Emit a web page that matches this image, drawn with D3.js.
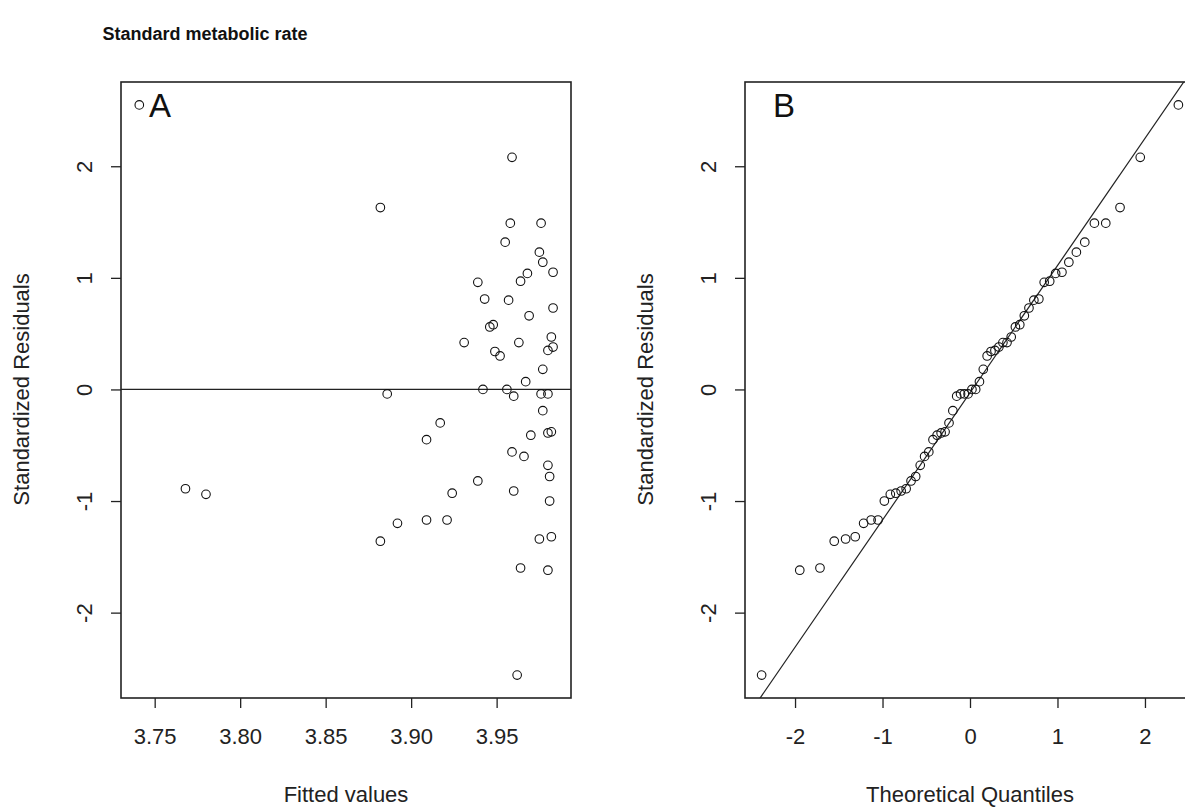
<!DOCTYPE html>
<html>
<head>
<meta charset="utf-8">
<title>Standard metabolic rate</title>
<script src="https://d3js.org/d3.v7.min.js"></script>
<style>
  body { margin: 0; background: #fff; }
  text { font-family: "Liberation Sans", Arial, sans-serif; fill: #222; }
</style>
</head>
<body>
<script>
// Panel A: fitted values vs standardized residuals
var fitted = [3.741, 3.882, 3.768, 3.780, 3.886, 3.882, 3.892, 3.909, 3.909, 3.917,
              3.921, 3.924, 3.931, 3.939, 3.939, 3.942, 3.943, 3.946, 3.948, 3.949,
              3.952, 3.955, 3.956, 3.958, 3.959, 3.957, 3.959, 3.960, 3.960, 3.963,
              3.964, 3.966, 3.964, 3.962, 3.968, 3.969, 3.967, 3.970, 3.975, 3.976,
              3.977, 3.975, 3.977, 3.977, 3.976, 3.983, 3.980, 3.980, 3.981, 3.981,
              3.980, 3.982, 3.983, 3.982, 3.983, 3.982, 3.980, 3.980];
var residuals = [2.55, 1.63, -0.89, -0.94, -0.04, -1.36, -1.20, -1.17, -0.45, -0.30,
                 -1.17, -0.93, 0.42, 0.96, -0.82, 0.00, 0.81, 0.56, 0.58, 0.34,
                 0.30, 1.32, 0.00, 1.49, 2.08, 0.80, -0.56, -0.06, -0.91, 0.42,
                 0.97, -0.60, -1.60, -2.56, 1.04, 0.66, 0.07, -0.41, 1.23, 1.49,
                 1.14, -1.34, 0.18, -0.19, -0.04, 1.05, 0.35, -0.68, -0.78, -1.00,
                 -0.39, -0.38, 0.73, 0.47, 0.38, -1.32, -1.62, -0.04];

// Panel B: normal Q-Q plot
var theoQuantiles = [-2.382, -1.946, -1.715, -1.552, -1.422, -1.312, -1.216, -1.130, -1.051, -0.979,
                     -0.911, -0.848, -0.787, -0.730, -0.674, -0.621, -0.569, -0.519, -0.471, -0.423,
                     -0.376, -0.330, -0.285, -0.240, -0.196, -0.152, -0.108, -0.065, -0.022,
                     0.022, 0.065, 0.108, 0.152, 0.196, 0.240, 0.285, 0.330, 0.376, 0.423,
                     0.471, 0.519, 0.569, 0.621, 0.674, 0.730, 0.787, 0.848, 0.911, 0.979,
                     1.051, 1.130, 1.216, 1.312, 1.422, 1.552, 1.715, 1.946, 2.382];
var sampleQuantiles = [-2.56, -1.62, -1.60, -1.36, -1.34, -1.32, -1.20, -1.17, -1.17, -1.00,
                       -0.94, -0.93, -0.91, -0.89, -0.82, -0.78, -0.68, -0.60, -0.56, -0.45,
                       -0.41, -0.39, -0.38, -0.30, -0.19, -0.06, -0.04, -0.04, -0.04,
                       0.00, 0.00, 0.07, 0.18, 0.30, 0.34, 0.35, 0.38, 0.42, 0.42,
                       0.47, 0.56, 0.58, 0.66, 0.73, 0.80, 0.81, 0.96, 0.97, 1.04,
                       1.05, 1.14, 1.23, 1.32, 1.49, 1.49, 1.63, 2.08, 2.55];
var qqIntercept = -0.03;
var qqSlope = 1.14;

var xTicksA = [3.75, 3.80, 3.85, 3.90, 3.95];
var xTicksB = [-2, -1, 0, 1, 2];
var yTicks = [-2, -1, 0, 1, 2];

var W = 1185, H = 807;
var plotTop = 82, plotBottom = 698;

var svg = d3.select("body").append("svg")
    .attr("width", W)
    .attr("height", H);

var y = d3.scaleLinear().domain([-2.765, 2.755]).range([plotBottom, plotTop]);

// R-style labels use a plain hyphen for negatives
var intLabel = d => String(d);

function panel(id, x0, x1, xDomain, xTicks, xFormat, xTitle, letter) {
    var x = d3.scaleLinear().domain(xDomain).range([x0, x1]);
    var g = svg.append("g");

    g.append("clipPath").attr("id", "clip" + id)
        .append("rect")
        .attr("x", x0).attr("y", plotTop)
        .attr("width", x1 - x0).attr("height", plotBottom - plotTop);

    // x axis
    var xa = g.append("g")
        .attr("transform", "translate(0," + plotBottom + ")")
        .call(d3.axisBottom(x).tickValues(xTicks).tickFormat(xFormat).tickSize(10).tickPadding(20));
    xa.select(".domain").remove();
    xa.selectAll("line").attr("stroke", "#222").attr("stroke-width", 1.3);
    xa.selectAll("text").attr("font-size", 22).attr("fill", "#222");

    // y axis, labels parallel to the axis
    var ya = g.append("g")
        .attr("transform", "translate(" + x0 + ",0)")
        .call(d3.axisLeft(y).tickValues(yTicks).tickFormat(intLabel).tickSize(10).tickPadding(0));
    ya.select(".domain").remove();
    ya.selectAll("line").attr("stroke", "#222").attr("stroke-width", 1.3);
    ya.selectAll("text")
        .attr("font-size", 22).attr("fill", "#222")
        .attr("x", null).attr("dy", null)
        .attr("text-anchor", "middle")
        .attr("transform", "translate(-37,0) rotate(-90)")
        .attr("y", 8);

    // axis titles
    g.append("text")
        .attr("x", (x0 + x1) / 2).attr("y", 802)
        .attr("text-anchor", "middle")
        .attr("font-size", 22)
        .text(xTitle);
    g.append("text")
        .attr("transform", "translate(" + (x0 - 92) + "," + y(0) + ") rotate(-90)")
        .attr("text-anchor", "middle")
        .attr("font-size", 22)
        .text("Standardized Residuals");

    // panel letter
    g.append("text")
        .attr("x", x0 + 28).attr("y", plotTop + 35)
        .attr("font-family", "'Open Sans', sans-serif")
        .attr("font-size", 33)
        .style("fill", "#111")
        .text(letter);

    return {g: g, x: x};
}

// ---- panel A
var pA = panel("A", 121, 571, [3.7303, 3.9935], xTicksA, d3.format(".2f"), "Fitted values", "A");

pA.g.append("line")
    .attr("x1", 121).attr("x2", 571)
    .attr("y1", y(0)).attr("y2", y(0))
    .attr("stroke", "#222").attr("stroke-width", 1.2);

pA.g.append("g")
    .selectAll("circle")
    .data(fitted)
    .join("circle")
    .attr("cx", d => pA.x(d))
    .attr("cy", (d, i) => y(residuals[i]))
    .attr("r", 4.3)
    .attr("fill", "none")
    .attr("stroke", "#111")
    .attr("stroke-width", 1.1);

pA.g.append("rect")
    .attr("x", 121).attr("y", plotTop)
    .attr("width", 571 - 121).attr("height", plotBottom - plotTop)
    .attr("fill", "none").attr("stroke", "#222").attr("stroke-width", 1.6);

// ---- panel B
var pB = panel("B", 745, 1195, [-2.572, 2.572], xTicksB, intLabel, "Theoretical Quantiles", "B");

var lineX = pB.x.domain();
pB.g.append("line")
    .attr("clip-path", "url(#clipB)")
    .attr("x1", pB.x(lineX[0])).attr("y1", y(qqIntercept + qqSlope * lineX[0]))
    .attr("x2", pB.x(lineX[1])).attr("y2", y(qqIntercept + qqSlope * lineX[1]))
    .attr("stroke", "#222").attr("stroke-width", 1.2);

pB.g.append("g")
    .selectAll("circle")
    .data(theoQuantiles)
    .join("circle")
    .attr("cx", d => pB.x(d))
    .attr("cy", (d, i) => y(sampleQuantiles[i]))
    .attr("r", 4.3)
    .attr("fill", "none")
    .attr("stroke", "#111")
    .attr("stroke-width", 1.1);

pB.g.append("rect")
    .attr("x", 745).attr("y", plotTop)
    .attr("width", 1195 - 745).attr("height", plotBottom - plotTop)
    .attr("fill", "none").attr("stroke", "#222").attr("stroke-width", 1.6);

// main title
svg.append("text")
    .attr("x", 205).attr("y", 40)
    .attr("text-anchor", "middle")
    .attr("font-size", 18)
    .attr("font-weight", "bold")
    .style("fill", "#111")
    .text("Standard metabolic rate");
</script>
</body>
</html>
